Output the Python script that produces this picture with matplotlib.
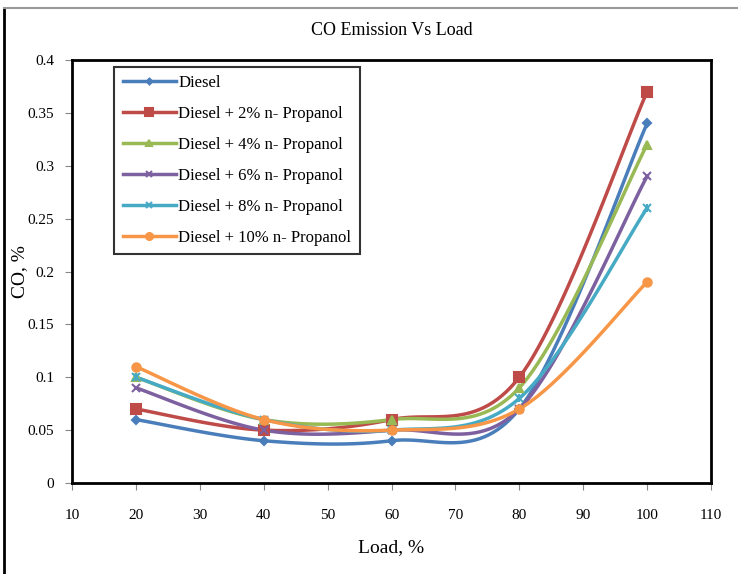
import numpy as np
import matplotlib
matplotlib.use("Agg")
import matplotlib.pyplot as plt
from matplotlib.lines import Line2D

plt.rcParams["font.family"] = ["Liberation Serif", "DejaVu Serif"]

load = [20, 40, 60, 80, 100]
diesel = [0.06, 0.04, 0.04, 0.07, 0.34]
np2 = [0.07, 0.05, 0.06, 0.10, 0.37]
np4 = [0.10, 0.06, 0.06, 0.09, 0.32]
np6 = [0.09, 0.05, 0.05, 0.07, 0.29]
np8 = [0.10, 0.06, 0.05, 0.08, 0.26]
np10 = [0.11, 0.06, 0.05, 0.07, 0.19]

labels = ["Diesel", "Diesel + 2% n- Propanol", "Diesel + 4% n- Propanol",
          "Diesel + 6% n- Propanol", "Diesel + 8% n- Propanol",
          "Diesel + 10% n- Propanol"]
colors = ["#4A7EBB", "#BE4B48", "#98B954", "#7D60A0", "#46AAC5", "#F79646"]
markers = ["D", "s", "^", "x", "x", "o"]
msizes = [4, 7, 6, 6, 6, 6]


def smooth(xs, ys, n=30):
    # excel-like smoothed line (catmull-rom bezier)
    p = np.column_stack([xs, ys]).astype(float)
    pts = [p[0]]
    for i in range(len(p) - 1):
        p0 = p[i - 1] if i > 0 else p[i]
        p1, p2 = p[i], p[i + 1]
        p3 = p[i + 2] if i + 2 < len(p) else p[i + 1]
        c1 = p1 + (p2 - p0) / 6
        c2 = p2 - (p3 - p1) / 6
        t = np.linspace(0, 1, n)[1:, None]
        seg = ((1 - t) ** 3) * p1 + 3 * ((1 - t) ** 2) * t * c1 \
            + 3 * (1 - t) * t ** 2 * c2 + t ** 3 * p2
        pts.extend(seg)
    pts = np.array(pts)
    return pts[:, 0], pts[:, 1]


fig = plt.figure(figsize=(7.38, 5.74), dpi=100)
ax = fig.add_axes([0.0976, 0.1585, 0.8658, 0.737])

series = [diesel, np2, np4, np6, np8, np10]
handles = []
for ys, lab, c, m, ms in zip(series, labels, colors, markers, msizes):
    sx, sy = smooth(load, ys)
    ax.plot(sx, sy, color=c, lw=2.5, zorder=2)
    ax.plot(load, ys, ls="none", marker=m, color=c, ms=ms, mew=1.5, zorder=3)
    if lab.startswith("Diesel + 8"):
        ax.plot(load, ys, ls="none", marker="|", color=c, ms=6, mew=1.5, zorder=3)
    handles.append(Line2D([], [], color=c, lw=2.5, marker=m, ms=ms - 1, mew=1.5))

ax.set_xlim(10, 110)
ax.set_ylim(0, 0.4)
ax.set_xticks(np.arange(10, 111, 10))
ax.set_yticks(np.arange(0, 0.41, 0.05))
ax.set_yticklabels(["0", "0.05", "0.1", "0.15", "0.2", "0.25", "0.3", "0.35", "0.4"])
ax.tick_params(axis="x", direction="out", length=5, pad=14, labelsize=11, color="#888888")
ax.tick_params(axis="y", direction="out", length=5, pad=8, labelsize=11, color="#888888")
for s in ax.spines.values():
    s.set_linewidth(2)
    s.set_color("black")

ax.set_title("CO Emission Vs Load", fontsize=13, pad=18)
ax.set_xlabel("Load, %", fontsize=14, labelpad=12)
ax.set_ylabel("CO, %", fontsize=14)
ax.yaxis.set_label_coords(-0.069, 0.5)

leg = ax.legend(handles, labels, loc="upper left", bbox_to_anchor=(0.053, 1.004),
                fontsize=12, frameon=True, fancybox=False, handlelength=3.2,
                labelspacing=0.9, borderpad=0.5, handletextpad=0.15)
leg.get_frame().set_edgecolor("black")
leg.get_frame().set_linewidth(1.5)

# outer chart border
fig.add_artist(Line2D([0.006, 0.006], [0.0, 0.986], color="black", lw=2,
                      transform=fig.transFigure))
fig.add_artist(Line2D([0.006, 1.0], [0.986, 0.986], color="#999999", lw=1.5,
                      transform=fig.transFigure))

fig.savefig("out.png", dpi=100)
